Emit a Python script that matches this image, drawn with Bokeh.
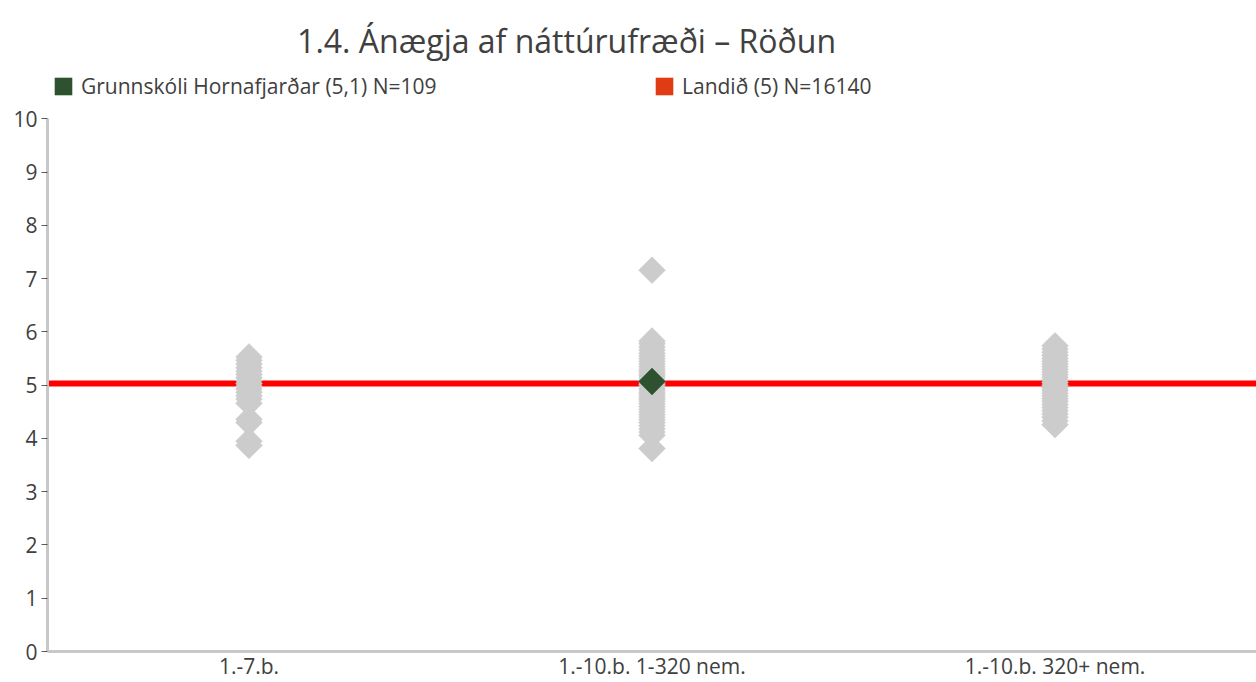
import math
from bokeh.plotting import figure
from bokeh.models import (FactorRange, Range1d, Span, Label, Legend, LegendItem,
                          FixedTicker, ColumnDataSource)
from bokeh.embed import file_html
from bokeh.resources import INLINE

# ---- data ----
categories = ["1.-7.b.", "1.-10.b. 1-320 nem.", "1.-10.b. 320+ nem."]
grp1 = [5.53, 5.47, 5.40, 5.33, 5.26, 5.20, 5.14, 5.09, 5.03, 4.98, 4.93, 4.87,
        4.80, 4.74, 4.66, 4.36, 4.30, 3.95, 3.87]
grp2 = [7.16, 5.83, 5.78, 5.72, 5.66, 5.60, 5.55, 5.50, 5.45, 5.40, 5.35, 5.30,
        5.26, 5.22, 5.18, 5.14, 5.10, 5.06, 5.02, 4.98, 4.94, 4.90, 4.86, 4.82,
        4.78, 4.74, 4.70, 4.65, 4.60, 4.55, 4.50, 4.45, 4.40, 4.35, 4.30, 4.24,
        4.18, 4.12, 4.06, 3.81]
grp3 = [5.74, 5.68, 5.62, 5.56, 5.50, 5.45, 5.40, 5.35, 5.30, 5.25, 5.20, 5.15,
        5.10, 5.05, 5.00, 4.95, 4.90, 4.85, 4.80, 4.75, 4.70, 4.64, 4.58, 4.52,
        4.46, 4.40, 4.33, 4.26]
school_category = "1.-10.b. 1-320 nem."
school_value = 5.07
land_value = 5.03
y_ticks = [0, 1, 2, 3, 4, 5, 6, 7, 8, 9, 10]
title_text = "1.4. Ánægja af náttúrufræði – Röðun"
school_label = "Grunnskóli Hornafjarðar (5,1) N=109"
land_label = "Landið (5) N=16140"

FONT = "Open Sans"
TXT = "#404040"
GREEN = "#2e5230"
ORANGE = "#e03c14"

# y range extends above 10 so title/legend fit inside the frame
p = figure(x_range=FactorRange(*categories), y_range=Range1d(0, 12.224),
           width=1256, height=682, output_backend="svg", toolbar_location=None,
           min_border_left=47, min_border_right=0, min_border_top=0,
           min_border_bottom=28)
p.outline_line_color = None
p.grid.visible = False
p.background_fill_color = "white"

# national average line (behind markers)
p.add_layout(Span(location=land_value, dimension="width", line_color="#ff0000",
                  line_width=6, level="underlay"))

xs = [categories[0]] * len(grp1) + [categories[1]] * len(grp2) + [categories[2]] * len(grp3)
ys = grp1 + grp2 + grp3
src = ColumnDataSource(dict(x=xs, y=ys))
p.scatter("x", "y", source=src, marker="square", size=19, angle=math.pi / 4,
          fill_color="#cccccc", line_color="#cccccc", line_width=0.5)
p.scatter([school_category], [school_value], marker="square", size=19,
          angle=math.pi / 4, fill_color=GREEN, line_color=GREEN,
          line_width=0.5)

# legend swatches (zero-size, invisible in the plot)
g_dummy = p.quad(left=[0], right=[0], top=[0], bottom=[0], fill_color=GREEN,
                 line_color=None)
r_dummy = p.quad(left=[0], right=[0], top=[0], bottom=[0], fill_color=ORANGE,
                 line_color=None)

for rend, lab, x in [(g_dummy, school_label, 5), (r_dummy, land_label, 606)]:
    lg = Legend(items=[LegendItem(label=lab, renderers=[rend])],
                location=(x, 551), orientation="horizontal", padding=0,
                margin=0, border_line_alpha=0, background_fill_alpha=0,
                glyph_width=22, glyph_height=22, label_standoff=7,
                label_text_font=FONT, label_text_font_size="21px",
                label_text_color=TXT, label_height=22)
    p.add_layout(lg, "center")

p.add_layout(Label(x=1.288, y=11.48, text=title_text, text_align="center",
                   text_baseline="middle", text_font=FONT,
                   text_font_size="32px", text_color=TXT))

# axes
ya = p.yaxis[0]
ya.ticker = FixedTicker(ticks=y_ticks)
ya.bounds = (0, 10)
ya.axis_line_color = "#c8c8c8"
ya.axis_line_width = 3
ya.major_tick_in = 0
ya.major_tick_out = 6
ya.major_tick_line_color = "#595959"
ya.minor_tick_line_color = None
ya.major_label_standoff = 4
ya.major_label_text_font = FONT
ya.major_label_text_font_size = "21px"
ya.major_label_text_color = TXT

xa = p.xaxis[0]
xa.axis_line_color = "#c8c8c8"
xa.axis_line_width = 3
xa.major_tick_line_color = None
xa.major_tick_in = 0
xa.major_tick_out = 0
xa.major_label_standoff = 0
xa.major_label_text_font = FONT
xa.major_label_text_font_size = "21px"
xa.major_label_text_color = TXT

open("out.html", "w").write(file_html(p, INLINE))
